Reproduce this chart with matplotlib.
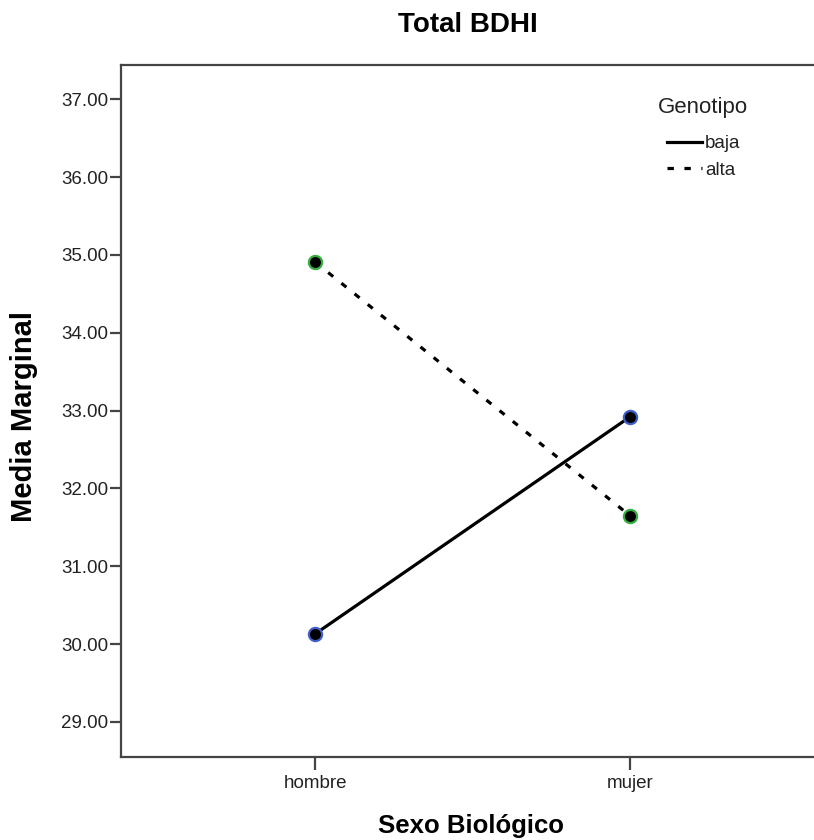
import matplotlib
matplotlib.use("Agg")
import matplotlib.pyplot as plt
from matplotlib.lines import Line2D

plt.rcParams['font.family'] = ['Liberation Sans', 'DejaVu Sans']

# Estimated marginal means of Total BDHI by sex and genotype
sexo = ["hombre", "mujer"]
baja = [30.13, 32.92]
alta = [34.91, 31.65]
y_ticks = [29.0, 30.0, 31.0, 32.0, 33.0, 34.0, 35.0, 36.0, 37.0]

W, H = 814, 840
fig = plt.figure(figsize=(W / 100, H / 100), dpi=100)
# plot frame runs a little past the right edge of the canvas
left, right, top, bottom = 121, 824, 65, 757
ax = fig.add_axes([left / W, 1 - bottom / H, (right - left) / W, (bottom - top) / H])

x = list(range(len(sexo)))
spine_col = "#444444"
dash = (0, (2.0, 3.3))

ax.plot(x, baja, color="black", lw=2.3, solid_capstyle="butt", zorder=2)
ax.plot(x, alta, color="black", lw=2.3, linestyle=dash, zorder=2)
ax.plot(x, baja, linestyle="none", marker="o", ms=9.5, mfc="black",
        mec="#3f5fc8", mew=1.6, zorder=3)
ax.plot(x, alta, linestyle="none", marker="o", ms=9.5, mfc="black",
        mec="#33b040", mew=1.6, zorder=3)

ax.set_xlim(-0.616, 1.616)
ax.set_ylim(28.55, 37.44)
ax.set_xticks(x)
ax.set_xticklabels(sexo)
ax.set_yticks(y_ticks)
ax.set_yticklabels([f"{v:.2f}" for v in y_ticks])

for s in ax.spines.values():
    s.set_color(spine_col)
    s.set_linewidth(1.6)
ax.spines["right"].set_visible(False)

ax.tick_params(axis="y", direction="out", length=8, width=1.6, color=spine_col,
               pad=1, labelsize=13.5, labelcolor="#222222")
ax.tick_params(axis="x", direction="out", length=9, width=1.6, color=spine_col,
               pad=4, labelsize=13.5, labelcolor="#222222")

fig.text(468 / W, 1 - 25 / H, "Total BDHI", ha="center", va="center",
         fontsize=20, fontweight="bold")
fig.text(471 / W, 1 - 826 / H, "Sexo Biológico", ha="center", va="center",
         fontsize=18.5, fontweight="bold")
fig.text(24 / W, 1 - 416 / H, "Media Marginal", ha="center", va="center",
         rotation=90, fontsize=21, fontweight="bold")

fig.text(658 / W, 1 - 107 / H, "Genotipo", ha="left", va="center",
         fontsize=16, color="#222222")
handles = [Line2D([], [], color="black", lw=2.3),
           Line2D([], [], color="black", lw=2.3, linestyle=dash)]
leg = ax.legend(handles, ["baja", "alta"], loc="upper left",
                bbox_to_anchor=(667 / W, 1 - 135 / H),
                bbox_transform=fig.transFigure, frameon=False,
                fontsize=13.5, handlelength=1.87, handletextpad=0.16,
                labelspacing=0.5, borderpad=0, borderaxespad=0)
for t in leg.get_texts():
    t.set_color("#222222")

fig.savefig("out.png", dpi=100, facecolor="white")
